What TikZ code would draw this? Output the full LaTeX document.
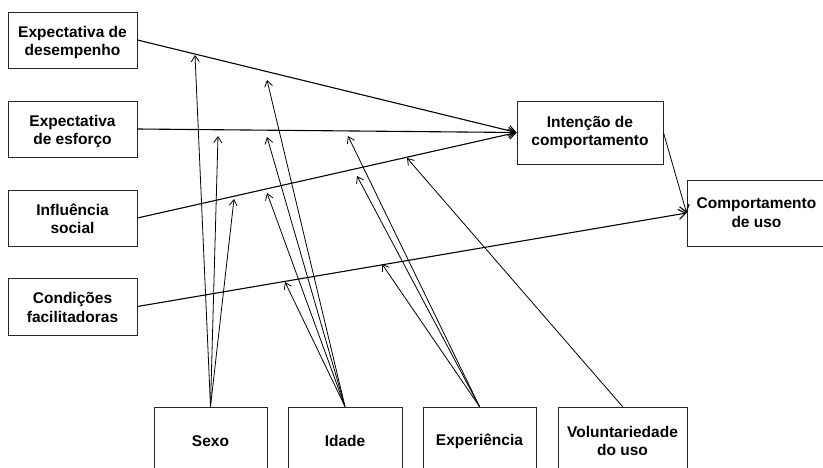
\documentclass[tikz,border=0pt]{standalone}
\usepackage{fontspec}
\setmainfont{Liberation Sans}
\usetikzlibrary{arrows.meta}
\begin{document}
\begin{tikzpicture}[x=1pt,y=-1pt,
  box/.style={draw=black!85,line width=0.9pt,align=center,inner sep=0pt,
    font=\fontsize{15.5}{18.8}\selectfont\bfseries},
  leftbox/.style={box,minimum width=129pt,text height=33pt,text depth=1pt},
  mainarr/.style={line width=1.1pt,-{Straight Barb[length=7pt,width=10pt,line width=1.1pt]}},
  modarr/.style={line width=0.8pt,-{Straight Barb[length=6pt,width=8pt,line width=0.8pt]}}]
\useasboundingbox (0,0) rectangle (823,468);
\begin{scope}
\clip (0,0) rectangle (823,468);
\node[leftbox,minimum height=56pt] (A) at (72.5,40) {Expectativa de\\desempenho};
\node[leftbox,minimum height=56pt] (B) at (72.5,129) {Expectativa\\de esforço};
\node[leftbox,minimum height=56pt] (C) at (72.5,218) {Influência\\social};
\node[leftbox,minimum height=57pt] (D) at (72.5,306.5) {Condições\\facilitadoras};
\node[box,minimum width=146pt,minimum height=63pt] (I) at (590,132.5) {Intenção de\\comportamento};
\node[box,minimum width=139pt,minimum height=66pt] (U) at (756.5,213) {Comportamento\\de uso};
\node[box,minimum width=113pt,minimum height=68pt] (S) at (210.5,441) {Sexo};
\node[box,minimum width=114pt,minimum height=68pt] (Id) at (345,441) {Idade};
\node[box,minimum width=113pt,minimum height=68pt] (E) at (479.5,441) {Experiência};
\node[box,minimum width=129pt,minimum height=68pt] (V) at (622.5,441) {Voluntariedade\\do uso};
\end{scope}
\draw[mainarr] (A.east) -- (I.west);
\draw[mainarr] (B.east) -- (I.west);
\draw[mainarr] (C.east) -- (I.west);
\draw[mainarr] (D.east) -- (U.west);
\draw[mainarr,line width=0.8pt] (I.east) -- (U.west);
\coordinate (s1) at (195,55);
\coordinate (s2) at (218,136);
\coordinate (s3) at (234,199);
\coordinate (i1) at (267,80);
\coordinate (i2) at (267,137);
\coordinate (i3) at (267,193);
\coordinate (i4) at (285,282);
\coordinate (e1) at (348,136);
\coordinate (e2) at (357,176);
\coordinate (e3) at (382,264);
\coordinate (v1) at (407,158);
\foreach \t in {s1,s2,s3} \draw[modarr] (S.north) -- (\t);
\foreach \t in {i1,i2,i3,i4} \draw[modarr] (Id.north) -- (\t);
\foreach \t in {e1,e2,e3} \draw[modarr] (E.north) -- (\t);
\draw[modarr] (V.north) -- (v1);
\end{tikzpicture}
\end{document}
